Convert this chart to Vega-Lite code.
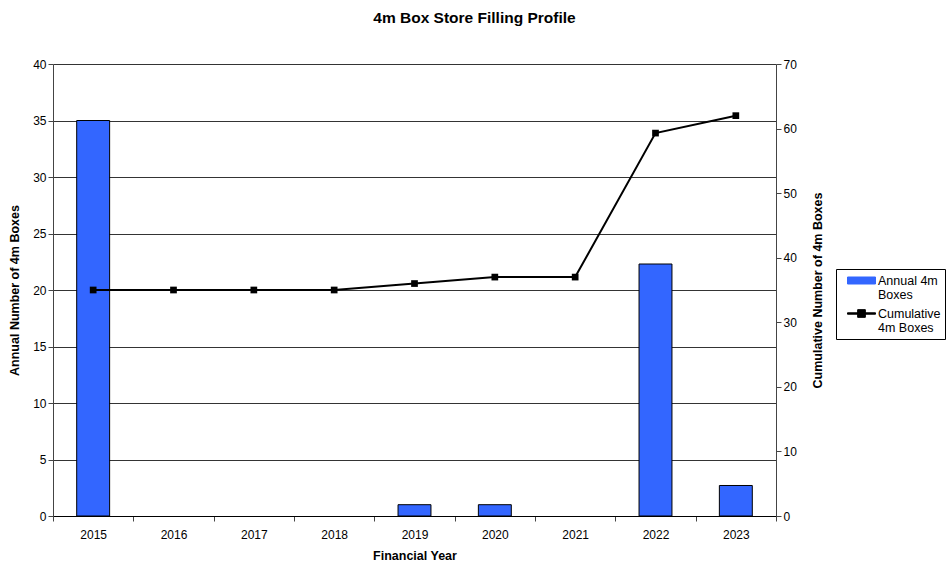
{
  "$schema": "https://vega.github.io/schema/vega-lite/v6.json",
  "width": 723,
  "height": 452,
  "autosize": "none",
  "padding": {"left": 53, "top": 64, "right": 172, "bottom": 46},
  "background": "white",
  "title": {"text": "4m Box Store Filling Profile", "font": "Liberation Sans", "fontSize": 15.5, "fontWeight": "bold", "anchor": "middle", "dx": 60, "offset": 32, "color": "black"},
  "config": {
    "font": "Liberation Sans",
    "view": {"stroke": null},
    "axis": {"labelFont": "Liberation Sans", "titleFont": "Liberation Sans", "labelFontSize": 12, "titleFontSize": 12.5, "titleFontWeight": "bold", "labelColor": "black", "titleColor": "black", "domainColor": "#444", "tickColor": "#444"}
  },
  "data": {"values": [
    {"year": "2015", "annual": 35, "cumulative": 35},
    {"year": "2016", "annual": 0, "cumulative": 35},
    {"year": "2017", "annual": 0, "cumulative": 35},
    {"year": "2018", "annual": 0, "cumulative": 35},
    {"year": "2019", "annual": 1, "cumulative": 36},
    {"year": "2020", "annual": 1, "cumulative": 37},
    {"year": "2021", "annual": 0, "cumulative": 37},
    {"year": "2022", "annual": 22.3, "cumulative": 59.3},
    {"year": "2023", "annual": 2.7, "cumulative": 62}
  ]},
  "encoding": {
    "x": {"field": "year", "type": "ordinal", "scale": {"paddingInner": 0, "paddingOuter": 0},
      "axis": {"title": "Financial Year", "labelAngle": 0, "tickBand": "extent", "labelPadding": 8, "titlePadding": 9, "grid": false, "domainColor": "#000"}}
  },
  "layer": [
    {
      "transform": [{"filter": "datum.annual > 0"}],
      "mark": {"type": "bar", "width": {"band": 0.41}, "stroke": "black", "strokeWidth": 1},
      "encoding": {
        "y": {"field": "annual", "type": "quantitative", "scale": {"domain": [0, 40]},
          "axis": {"title": "Annual Number of 4m Boxes", "values": [0,5,10,15,20,25,30,35,40], "grid": true, "gridColor": "#000", "gridWidth": 0.8, "gridOpacity": 1, "titlePadding": 11}},
        "color": {"datum": "Annual 4m Boxes", "type": "nominal",
          "scale": {"domain": ["Annual 4m Boxes", "Cumulative 4m Boxes"], "range": ["#3366FF", "#000000"]},
          "legend": {"title": null, "orient": "none", "legendX": 783, "legendY": 205,
            "strokeColor": "black", "fillColor": "white", "padding": 4,
            "labelFontSize": 12.5, "labelFont": "Liberation Sans", "labelColor": "black",
            "symbolSize": 196, "symbolOffset": 14, "rowPadding": 4, "labelOffset": 9,
            "symbolStrokeColor": "black", "symbolStrokeWidth": 1,
            "symbolType": {"expr": "datum.value == 'Annual 4m Boxes' ? 'M-2,-0.5H2V0.5H-2Z' : 'M-2,-0.1H2V0.1H-2Z M-0.55,-0.55H0.55V0.55H-0.55Z'"},
            "labelExpr": "datum.label == 'Annual 4m Boxes' ? ['Annual 4m', 'Boxes'] : ['Cumulative', '4m Boxes']",
            "encode": {"symbols": {"update": {
              "fill": {"signal": "datum.value == 'Annual 4m Boxes' ? '#3366FF' : '#000000'"},
              "stroke": {"value": "#000000"},
              "strokeWidth": {"value": 1},
              "fillOpacity": {"value": 1}
            }}}}
        }
      }
    },
    {
      "mark": {"type": "line", "strokeWidth": 2, "point": {"shape": "square", "filled": true, "size": 45}},
      "encoding": {
        "y": {"field": "cumulative", "type": "quantitative", "scale": {"domain": [0, 70]},
          "axis": {"title": "Cumulative Number of 4m Boxes", "orient": "right", "titleAngle": -90, "values": [0,10,20,30,40,50,60,70], "grid": false, "titlePadding": 28}},
        "color": {"datum": "Cumulative 4m Boxes", "type": "nominal"}
      }
    }
  ],
  "resolve": {"scale": {"y": "independent"}}
}
